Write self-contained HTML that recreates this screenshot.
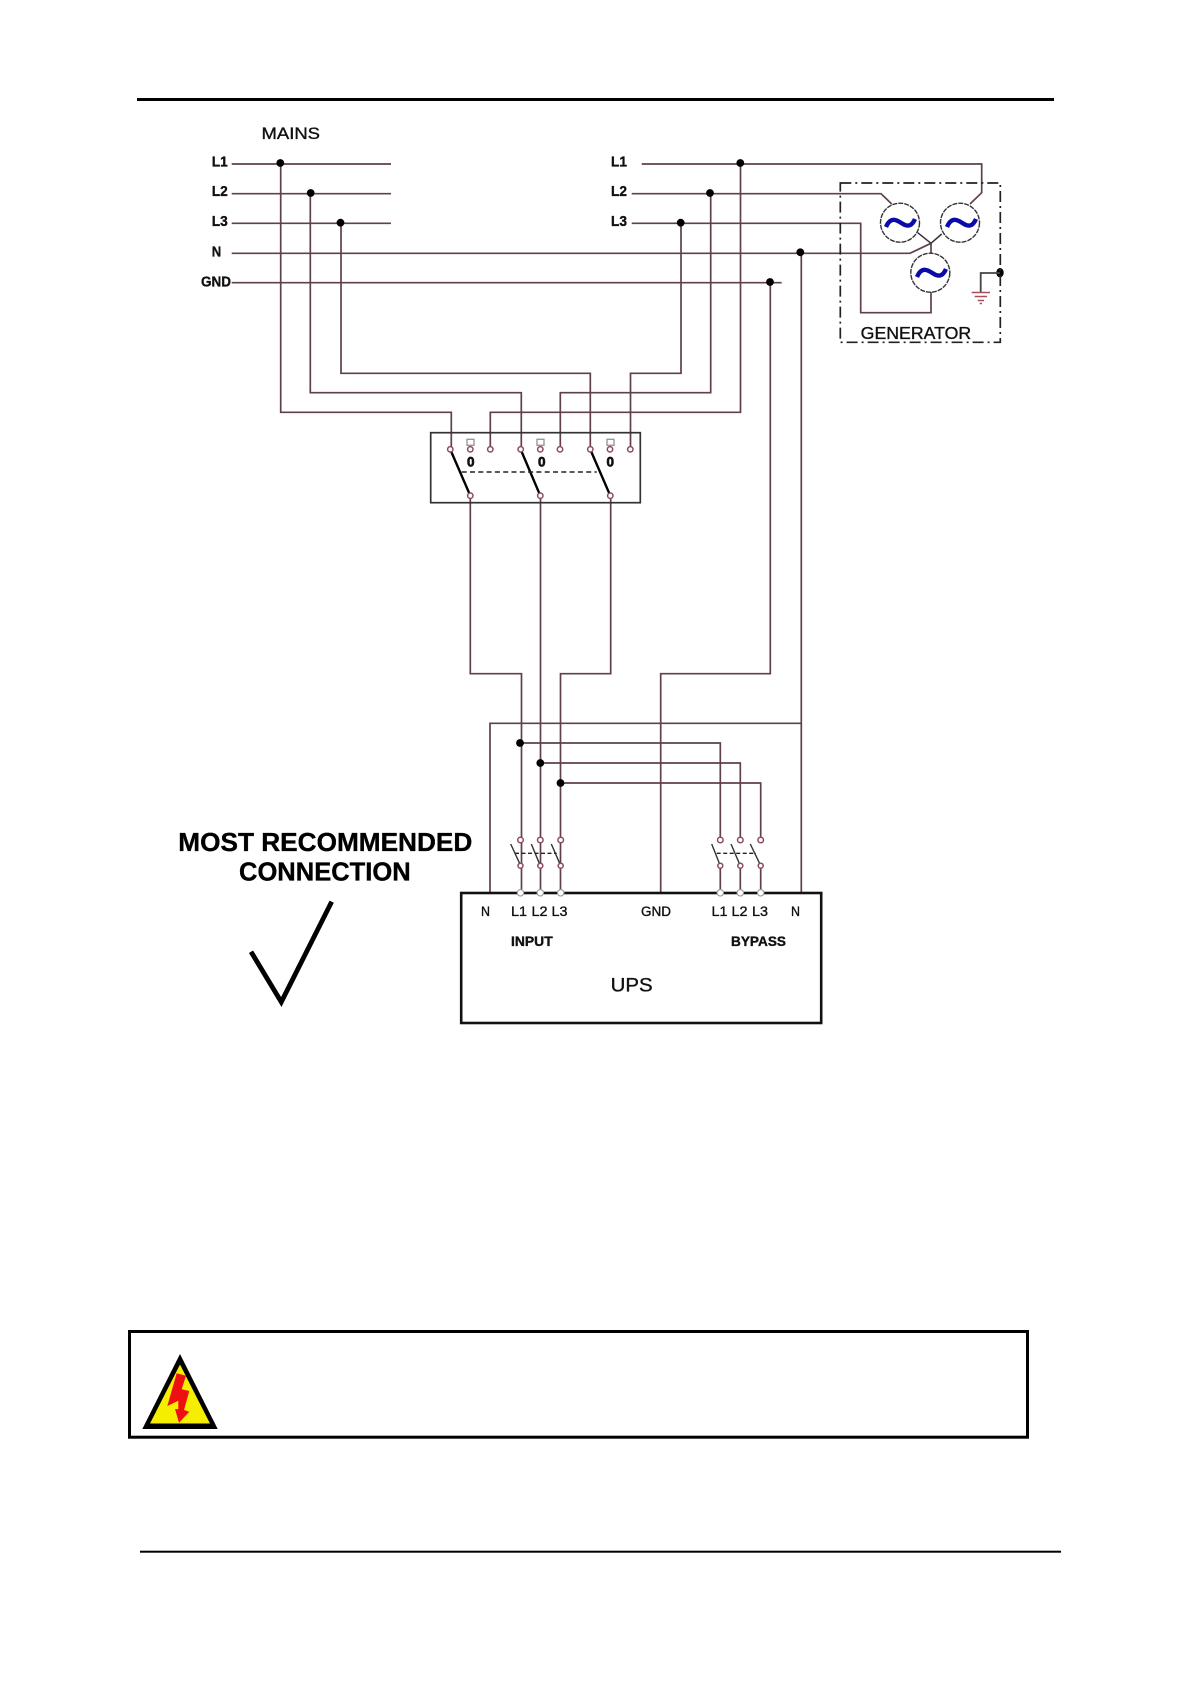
<!DOCTYPE html>
<html><head><meta charset="utf-8"><style>
html,body{margin:0;padding:0;background:#fff}
svg{display:block}
text{font-family:"Liberation Sans",sans-serif;fill:#111;stroke:#111;stroke-width:.35}
.w{fill:none;stroke:#5f404c;stroke-width:1.7}
.t{fill:#fff;stroke:#8d4a5a;stroke-width:1.5}
.b{font-weight:bold}
</style></head><body>
<svg width="1191" height="1684" viewBox="0 0 1191 1684" xmlns="http://www.w3.org/2000/svg">
<rect width="1191" height="1684" fill="#fff"/>
<rect x="137" y="98" width="917" height="3" fill="#000"/>
<rect x="140" y="1550.7" width="921" height="2" fill="#000"/>

<!-- Mains -->
<text x="261.5" y="139" font-size="17" textLength="58.5" lengthAdjust="spacingAndGlyphs">MAINS</text>
<g font-size="14.5">
<text class="b" x="211.7" y="166.7" textLength="16" lengthAdjust="spacingAndGlyphs">L1</text>
<text class="b" x="211.7" y="196" textLength="16" lengthAdjust="spacingAndGlyphs">L2</text>
<text class="b" x="211.7" y="226" textLength="16" lengthAdjust="spacingAndGlyphs">L3</text>
<text class="b" x="211.7" y="256.7" textLength="9.5" lengthAdjust="spacingAndGlyphs">N</text>
<text class="b" x="201" y="286.7" textLength="30" lengthAdjust="spacingAndGlyphs">GND</text>
<text class="b" x="611" y="166.7" textLength="16" lengthAdjust="spacingAndGlyphs">L1</text>
<text class="b" x="611" y="196" textLength="16" lengthAdjust="spacingAndGlyphs">L2</text>
<text class="b" x="611" y="226" textLength="16" lengthAdjust="spacingAndGlyphs">L3</text>
</g>

<g class="w">
<path d="M231.7 164H391M231.7 193.7H391M231.7 223.3H391"/>
<path d="M231.7 253.3H910L931 243.3M231.7 282.7H781.7"/>
<path d="M280.7 164V412.3H451.3V449"/>
<path d="M310.3 193.7V392.7H521.3V449"/>
<path d="M341 223.3V373.3H590.3V449"/>
<path d="M641.7 164H981.7V192.7L970 204"/>
<path d="M631.7 193.7H881L891.7 204"/>
<path d="M631.7 223.3H860.7V312.7H931V292"/>
<path d="M740.5 164V412.3H490.3V449"/>
<path d="M710.7 193.7V392.7H560.3V449"/>
<path d="M681 223.3V373.3H630.5V449"/>
<path d="M770.3 282.7V673.7H660.7V892.7"/>
<path d="M801.3 253.3V892.7"/>
<path d="M470.3 496V673.7H521.5V892"/>
<path d="M540.5 496V892"/>
<path d="M610.7 496V673.7H560.5V892"/>
<path d="M490 892.7V723.3H801.3"/>
<path d="M520.5 743H720.3V838"/>
<path d="M540.5 763H740.3V838"/>
<path d="M560.7 783H760.7V838"/>
<path d="M720.3 866V892M740.3 866V892M760.7 866V892"/>
</g>
<g fill="#000">
<circle cx="280.3" cy="163" r="3.9"/><circle cx="310.7" cy="193" r="3.9"/><circle cx="340.5" cy="222.7" r="3.9"/>
<circle cx="740.3" cy="163" r="3.9"/><circle cx="710" cy="193" r="3.9"/><circle cx="680.7" cy="222.7" r="3.9"/>
<circle cx="800.3" cy="252.3" r="3.9"/><circle cx="770" cy="282" r="3.9"/>
<circle cx="520" cy="743" r="3.9"/><circle cx="540.3" cy="763" r="3.9"/><circle cx="560.5" cy="783" r="3.9"/>
<ellipse cx="1000" cy="272.7" rx="3.7" ry="4.7"/>
</g>

<!-- Generator -->
<rect x="840.3" y="183" width="160" height="159.3" fill="none" stroke="#222" stroke-width="1.7" stroke-dasharray="11 4 2 4"/>
<g fill="#fff" stroke="#333" stroke-width="1.4" stroke-dasharray="5 1">
<circle cx="900" cy="222.7" r="19.5"/><circle cx="960" cy="222.7" r="19.5"/><circle cx="930.3" cy="272.7" r="19.5"/>
</g>
<g fill="none" stroke="#0a0aa8" stroke-width="4.4">
<path d="M886 227C891 215 898 221 903 224C908 227 912 226 915 219"/>
<path d="M947 227C952 215 959 221 964 224C969 227 973 226 976 219"/>
<path d="M917 277C922 265 929 271 934 274C939 277 943 276 946 269"/>
</g>
<path d="M917.7 232.7L931 243.3L941.7 234M931 243.3V253" fill="none" stroke="#3a3035" stroke-width="1.5"/>
<path d="M1000 273H980.7V292" fill="none" stroke="#444" stroke-width="1.8"/>
<path d="M971.7 292.5H990M974.7 296.5H987M977.7 300.5H984M979.7 303.5H982" fill="none" stroke="#a8505a" stroke-width="1.6"/>
<text x="860.7" y="339" font-size="17.5" textLength="110.5" lengthAdjust="spacingAndGlyphs">GENERATOR</text>

<!-- Transfer switch -->
<rect x="430.7" y="432.7" width="209.6" height="70" fill="none" stroke="#333" stroke-width="1.7"/>
<g stroke="#000" stroke-width="2.4" fill="none">
<path d="M450.3 449.5L470.3 495.7M520.7 449.5L540.3 495.7M590.3 449.5L610.3 495.7"/>
</g>
<path d="M461.7 472H596.7" stroke="#222" stroke-width="1.6" stroke-dasharray="5 3.3" fill="none"/>
<g class="t">
<circle cx="450.3" cy="449.3" r="2.7"/><circle cx="470.3" cy="449.3" r="2.7"/><circle cx="490.3" cy="449.3" r="2.7"/>
<circle cx="520.7" cy="449.3" r="2.7"/><circle cx="540.3" cy="449.3" r="2.7"/><circle cx="560" cy="449.3" r="2.7"/>
<circle cx="590.3" cy="449.3" r="2.7"/><circle cx="610" cy="449.3" r="2.7"/><circle cx="630.3" cy="449.3" r="2.7"/>
<circle cx="470.3" cy="495.7" r="2.7"/><circle cx="540.3" cy="495.7" r="2.7"/><circle cx="610.3" cy="495.7" r="2.7"/>
</g>
<g fill="#fff" stroke="#999" stroke-width="1.4">
<rect x="467" y="439.3" width="7" height="6"/><rect x="537" y="439.3" width="7" height="6"/><rect x="607" y="439.3" width="7" height="6"/>
</g>
<text class="b" x="467" y="466.5" font-size="13.5" style="stroke-width:.7">0</text>
<text class="b" x="538" y="466.5" font-size="13.5" style="stroke-width:.7">0</text>
<text class="b" x="606.5" y="466.5" font-size="13.5" style="stroke-width:.7">0</text>

<!-- UPS switches -->
<g stroke="#333" stroke-width="1.4" fill="none">
<path d="M510.7 844L520.7 865.7M531.3 844L540.3 865.7M551.3 844L560.7 865.7M711.7 844L720.3 865.7M731 844L740.3 865.7M750.3 844L760.7 865.7"/>
</g>
<path d="M515 853.3H556.7M716.7 853.3H756" stroke="#222" stroke-width="1.4" stroke-dasharray="4 2.5" fill="none"/>
<g class="t">
<circle cx="520.5" cy="840" r="2.8"/><circle cx="540.3" cy="840" r="2.8"/><circle cx="560.7" cy="840" r="2.8"/>
<circle cx="720.3" cy="840" r="2.8"/><circle cx="740.3" cy="840" r="2.8"/><circle cx="760.7" cy="840" r="2.8"/>
<circle cx="520.5" cy="865.7" r="2.5"/><circle cx="540.3" cy="865.7" r="2.5"/><circle cx="560.7" cy="865.7" r="2.5"/>
<circle cx="720.3" cy="865.7" r="2.5"/><circle cx="740.3" cy="865.7" r="2.5"/><circle cx="760.7" cy="865.7" r="2.5"/>
</g>

<!-- UPS -->
<rect x="461.2" y="893" width="360" height="130" fill="none" stroke="#111" stroke-width="2.6"/>
<g fill="#fff" stroke="#999" stroke-width="1.1">
<circle cx="520.5" cy="892.8" r="3.2"/><circle cx="540.3" cy="892.8" r="3.2"/><circle cx="560.7" cy="892.8" r="3.2"/>
<circle cx="720.3" cy="892.8" r="3.2"/><circle cx="740.3" cy="892.8" r="3.2"/><circle cx="760.7" cy="892.8" r="3.2"/>
</g>
<g font-size="13.5">
<text x="481" y="916" textLength="9" lengthAdjust="spacingAndGlyphs">N</text>
<text x="511" y="916" textLength="16" lengthAdjust="spacingAndGlyphs">L1</text>
<text x="531.5" y="916" textLength="16" lengthAdjust="spacingAndGlyphs">L2</text>
<text x="551.5" y="916" textLength="16" lengthAdjust="spacingAndGlyphs">L3</text>
<text x="641" y="916" textLength="30" lengthAdjust="spacingAndGlyphs">GND</text>
<text x="711.5" y="916" textLength="16" lengthAdjust="spacingAndGlyphs">L1</text>
<text x="731.5" y="916" textLength="16" lengthAdjust="spacingAndGlyphs">L2</text>
<text x="752" y="916" textLength="16" lengthAdjust="spacingAndGlyphs">L3</text>
<text x="791" y="916" textLength="9" lengthAdjust="spacingAndGlyphs">N</text>
<text class="b" x="511" y="946" textLength="41.7" lengthAdjust="spacingAndGlyphs">INPUT</text>
<text class="b" x="731" y="946" textLength="55" lengthAdjust="spacingAndGlyphs">BYPASS</text>
</g>
<text x="610.7" y="991.7" font-size="19.5" textLength="42" lengthAdjust="spacingAndGlyphs">UPS</text>

<!-- Recommendation -->
<text class="b" x="178.3" y="851" font-size="26" textLength="294" lengthAdjust="spacingAndGlyphs" style="fill:#000;stroke:#000">MOST RECOMMENDED</text>
<text class="b" x="239" y="880.3" font-size="26" textLength="171.7" lengthAdjust="spacingAndGlyphs" style="fill:#000;stroke:#000">CONNECTION</text>
<path d="M251 951.7L281.3 1002L331.7 901.7" fill="none" stroke="#000" stroke-width="4.8"/>

<!-- Warning -->
<rect x="129.5" y="1331.5" width="898" height="105.7" fill="none" stroke="#000" stroke-width="3"/>
<path d="M180 1354L142.3 1429H217.7Z" fill="#000"/>
<path d="M180 1364.5L150 1423.5H210Z" fill="#f5ee00"/>
<path d="M176.7 1373.3L186 1375.7L181.7 1389.3L189.3 1391L184 1410L189.3 1411.7L179 1422.7L175 1409L178.3 1409.3L178.3 1400.7L167.3 1406Z" fill="#ee1010"/>
</svg>
</body></html>
